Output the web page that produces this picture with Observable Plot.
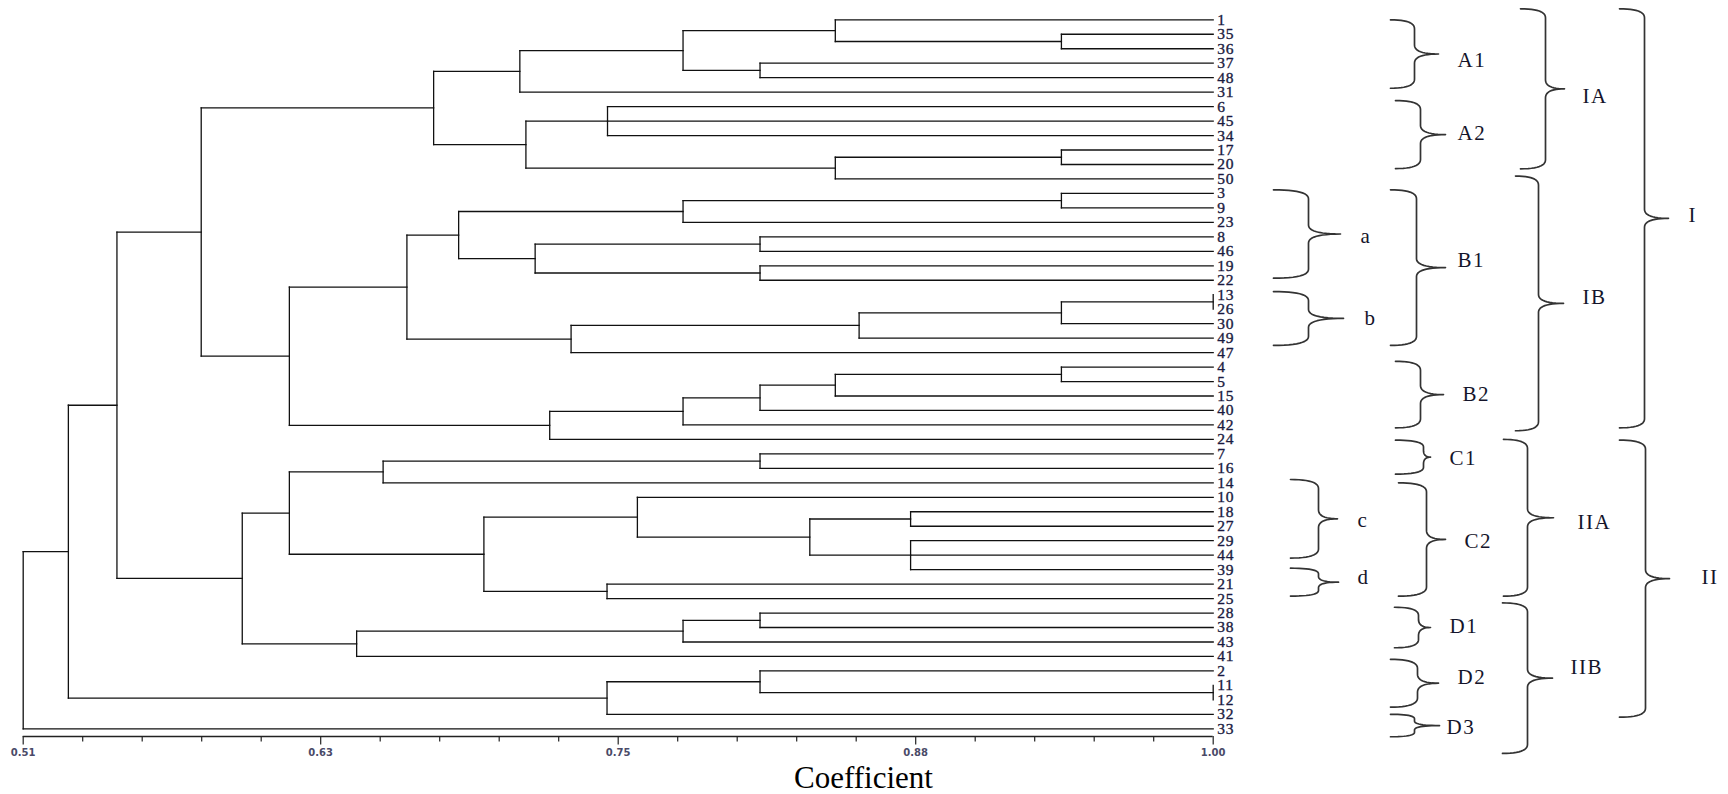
<!DOCTYPE html>
<html>
<head>
<meta charset="utf-8">
<script src="https://cdn.jsdelivr.net/npm/d3@7"></script>
<script src="https://cdn.jsdelivr.net/npm/@observablehq/plot@0.6"></script>
<style>
  html, body { margin: 0; padding: 0; background: #fff; }
  #chart svg { display: block; }
</style>
</head>
<body>
<div id="chart"></div>
<script>
// ---------- DATA ----------
// leaf order, top to bottom
const leaves = ["1","35","36","37","48","31","6","45","34","17","20","50",
  "3","9","23","8","46","19","22","13","26","30","49","47",
  "4","5","15","40","42","24","7","16","14","10","18","27","29","44","39",
  "21","25","28","38","43","41","2","11","12","32","33"];

// merges: [node, children, similarity coefficient]
const merges = [
  ["n1", ["35","36"], 0.9375],
  ["n2", ["1","n1"], 0.8444],
  ["n3", ["37","48"], 0.8134],
  ["n4", ["n2","n3"], 0.7817],
  ["n5", ["n4","31"], 0.7145],
  ["n6", ["6","45","34"], 0.7506],
  ["n7", ["17","20"], 0.9375],
  ["n8", ["n7","50"], 0.8444],
  ["n9", ["n6","n8"], 0.7170],
  ["n10", ["n5","n9"], 0.6790],
  ["n11", ["3","9"], 0.9375],
  ["n12", ["n11","23"], 0.7817],
  ["n13", ["8","46"], 0.8134],
  ["n14", ["19","22"], 0.8134],
  ["n15", ["n13","n14"], 0.7208],
  ["n16", ["n12","n15"], 0.6893],
  ["n17", ["13","26"], 1.0000],
  ["n18", ["n17","30"], 0.9375],
  ["n19", ["n18","49"], 0.8542],
  ["n20", ["n19","47"], 0.7356],
  ["n21", ["n16","n20"], 0.6680],
  ["n22", ["4","5"], 0.9375],
  ["n23", ["n22","15"], 0.8444],
  ["n24", ["n23","40"], 0.8134],
  ["n25", ["n24","42"], 0.7817],
  ["n26", ["n25","24"], 0.7268],
  ["n27", ["n21","n26"], 0.6196],
  ["n28", ["n10","n27"], 0.5833],
  ["n29", ["7","16"], 0.8134],
  ["n30", ["n29","14"], 0.6582],
  ["n31", ["18","27"], 0.8754],
  ["n32", ["29","44","39"], 0.8754],
  ["n33", ["n31","n32"], 0.8339],
  ["n34", ["10","n33"], 0.7629],
  ["n35", ["21","25"], 0.7504],
  ["n36", ["n34","n35"], 0.6997],
  ["n37", ["n30","n36"], 0.6196],
  ["n38", ["28","38"], 0.8134],
  ["n39", ["n38","43"], 0.7817],
  ["n40", ["n39","41"], 0.6473],
  ["n41", ["n37","n40"], 0.6002],
  ["n42", ["n28","n41"], 0.5486],
  ["n43", ["11","12"], 1.0000],
  ["n44", ["2","n43"], 0.8134],
  ["n45", ["n44","32"], 0.7504],
  ["n46", ["n42","n45"], 0.5286],
  ["n47", ["n46","33"], 0.5100]
];

// axis
const axisDomain = [0.51, 1.00];
const tickLabels = ["0.51","0.63","0.75","0.88","1.00"];
const minorPerMajor = 5;
const axisTitle = "Coefficient";

// group braces: label, span from / to (in leaf-row units)
const groupLabels = ["A1","A2","IA","a","b","B1","B2","IB","I","C1","C2","c","d","IIA","D1","D2","D3","IIB","II"];
const groupFrom   = [0.0, 5.58, -0.76, 11.75, 18.78, 11.75, 23.6, 10.8, -0.76, 29.05, 32.0, 31.77, 37.9, 29.0, 40.6, 44.2, 48.0, 40.3, 29.05];
const groupTo     = [4.73, 10.28, 10.3, 17.86, 22.5, 22.5, 28.2, 28.4, 28.2, 31.4, 39.83, 37.2, 39.83, 39.83, 43.4, 47.5, 49.55, 50.7, 48.2];

// ---------- LAYOUT (pixels) ----------
const W = 1728, H = 794;
const X0 = 22.7, X1 = 1212.7;   // x range of coefficient axis
const Y0 = 19.3, Y1 = 728.3;    // first / last leaf row
const nRows = leaves.length - 1;
const xv = px => axisDomain[0] + (px - X0) / (X1 - X0) * (axisDomain[1] - axisDomain[0]);
const yv = py => (py - Y0) / (Y1 - Y0) * nRows;
const ypx = u => Y0 + u / nRows * (Y1 - Y0);

// brace geometry: [left, vertical, tip, labelX, labelDy]
const braceLayout = {
  A1:[1390,1414,1438,1457,6.6], A2:[1395,1420,1445,1457,-1], IA:[1520,1545,1564,1582,7.7],
  a:[1273,1308,1340,1360,2], b:[1273,1308,1343,1364,0], B1:[1390,1416,1445,1457,-7.7],
  B2:[1395,1420,1443,1462,0], IB:[1515,1538,1563,1582,-6], I:[1619,1644,1668,1688,-3],
  C1:[1395,1423,1430,1449,1], C2:[1398,1426,1445,1464,1.7], c:[1290,1318,1337,1357,1],
  d:[1290,1318,1338,1357,-5], IIA:[1503,1527,1553,1577,5], D1:[1394,1418,1430,1449,-1],
  D2:[1390,1417,1438,1457,-5.6], D3:[1390,1414,1439,1446,1.7], IIB:[1502,1527,1552,1570,-10.6],
  II:[1619,1645,1669,1701,-1.6]
};

// ---------- DENDROGRAM SEGMENTS ----------
const pos = new Map();
leaves.forEach((n, i) => pos.set(n, {y: i, h: axisDomain[1]}));
const segs = [];
for (const [id, kids, h] of merges) {
  const ys = kids.map(k => pos.get(k).y);
  segs.push({x1: h, x2: h, y1: d3.min(ys), y2: d3.max(ys)});
  for (const k of kids) {
    const p = pos.get(k);
    if (p.h !== h) segs.push({x1: h, x2: p.h, y1: p.y, y2: p.y});
  }
  pos.set(id, {y: (ys[0] + ys[ys.length - 1]) / 2, h});
}

// ---------- BRACES ----------
const groups = groupLabels.map((g, i) => ({label: g, from: groupFrom[i], to: groupTo[i]}));
const bracePts = [];
for (const g of groups) {
  const [L, V, T] = braceLayout[g.label];
  const y0 = ypx(g.from), y1 = ypx(g.to), ym = (y0 + y1) / 2;
  const r = Math.min(9, (y1 - y0) / 5);
  const q = (p0, p1, p2) => {
    for (let s = 0; s <= 12; s++) {
      const t = s / 12, a = (1 - t) * (1 - t), b = 2 * (1 - t) * t, c = t * t;
      const px = a * p0[0] + b * p1[0] + c * p2[0];
      const py = a * p0[1] + b * p1[1] + c * p2[1];
      bracePts.push({g: g.label, x: xv(px), y: yv(py)});
    }
  };
  q([L, y0], [V, y0], [V, y0 + r]);
  q([V, ym - r], [V, ym], [T, ym]);
  q([T, ym], [V, ym], [V, ym + r]);
  q([V, y1 - r], [V, y1], [L, y1]);
}

// ---------- AXIS ----------
const nMinor = (tickLabels.length - 1) * minorPerMajor;
const step = (axisDomain[1] - axisDomain[0]) / nMinor;
const ticks = d3.range(nMinor + 1).map(i => ({v: axisDomain[0] + i * step, major: i % minorPerMajor === 0}));
const axisY = 736;

const plot = Plot.plot({
  width: W, height: H,
  margin: 0,
  x: {domain: axisDomain, range: [X0, X1], axis: null},
  y: {domain: [0, nRows], range: [Y0, Y1], axis: null},
  style: {background: "#fff", overflow: "visible"},
  marks: [
    Plot.link(segs, {x1: "x1", y1: "y1", x2: "x2", y2: "y2", stroke: "#111", strokeWidth: 1.3, strokeLinecap: "square"}),
    Plot.text(leaves, {x: () => axisDomain[1], y: (d, i) => i, text: d => d, dx: 4, textAnchor: "start",
      fontSize: 15.5, fontFamily: "Liberation Serif", fill: "#1a1a40", stroke: "#1a1a40", strokeWidth: 0.35}),
    // axis
    Plot.ruleY([yv(axisY)], {x1: axisDomain[0], x2: axisDomain[1], stroke: "#222", strokeWidth: 1.3}),
    Plot.ruleX(ticks, {x: "v", y1: () => yv(axisY), y2: d => yv(axisY + (d.major ? 8.5 : 5.5)), stroke: "#222", strokeWidth: 1.2}),
    Plot.text(tickLabels, {x: (d, i) => axisDomain[0] + i * step * minorPerMajor, y: () => yv(752.5), text: d => d,
      fontSize: 10, fontWeight: "bold", fontFamily: "DejaVu Sans", fill: "#4a4a68"}),
    Plot.text([axisTitle], {x: () => xv(863), y: () => yv(777.5), text: d => d, fontSize: 31,
      fontFamily: "Liberation Serif", fill: "#000"}),
    // braces
    Plot.line(bracePts, {x: "x", y: "y", z: "g", stroke: "#333", strokeWidth: 1.7, curve: "linear"}),
    Plot.text(groups, {x: d => xv(braceLayout[d.label][3]), y: d => yv(ypx((d.from + d.to) / 2) + braceLayout[d.label][4]),
      text: "label", textAnchor: "start", fontSize: 21, fontFamily: "Liberation Serif", fill: "#14142a"})
  ]
});

const labelSet = new Set(groupLabels);
d3.select(plot).selectAll("text").filter(function () { return labelSet.has(this.textContent); })
  .style("letter-spacing", "1.5px");
d3.select(plot).selectAll("text").filter(function () { return /^\d+$/.test(this.textContent); })
  .style("letter-spacing", "0.8px");

document.getElementById("chart").appendChild(plot);
</script>
</body>
</html>
